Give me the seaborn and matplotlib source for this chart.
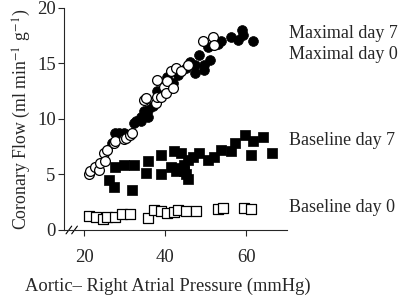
import pandas as pd
import seaborn as sns
import matplotlib
matplotlib.use("Agg")
import matplotlib.pyplot as plt

# Maximal flow, day 7 (filled circles)
max7_x = [26.9, 27.7, 28.5, 29.8, 32.2, 32.7, 33.9, 33.9, 34.7, 35.6, 35.6,
          37.0, 38.0, 40.5, 42.0, 43.0, 45.0, 46.0, 47.2, 47.2, 48.4, 49.6,
          49.6, 50.5, 50.9, 53.0, 53.8, 56.3, 57.9, 58.8, 59.2, 61.6]
max7_y = [7.8, 8.7, 8.7, 8.7, 9.6, 9.8, 9.8, 10.2, 10.7, 10.2, 10.8,
          11.2, 12.5, 13.8, 13.2, 14.0, 14.6, 15.1, 14.1, 14.9, 15.8, 14.4,
          14.9, 16.5, 15.3, 16.8, 17.0, 17.4, 17.1, 18.0, 17.6, 17.0]

# Maximal flow, day 0 (open circles)
max0_x = [21.1, 21.5, 22.7, 23.6, 24.0, 24.8, 25.2, 25.6, 27.3, 27.7, 29.8,
          30.2, 31.4, 31.8, 34.7, 35.2, 37.6, 38.0, 38.0, 38.9, 39.7, 40.1,
          40.5, 41.4, 41.8, 42.6, 43.9, 45.5, 49.2, 51.7, 52.1]
max0_y = [5.0, 5.3, 5.7, 5.4, 6.0, 6.9, 6.2, 7.2, 7.8, 8.0, 8.2,
          8.3, 8.6, 8.7, 11.7, 11.9, 11.4, 12.0, 13.5, 12.0, 12.9, 12.3,
          13.4, 14.3, 12.8, 14.6, 14.3, 14.9, 17.0, 17.4, 16.7]

# Baseline flow, day 7 (filled squares)
base7_x = [26.0, 27.3, 27.7, 29.8, 31.8, 32.2, 35.2, 35.6, 38.9, 38.9, 41.4,
           42.2, 42.6, 43.4, 43.9, 44.5, 44.7, 45.1, 45.5, 45.5, 46.8, 48.4,
           50.5, 52.1, 53.8, 56.3, 57.1, 59.6, 61.2, 61.7, 64.1, 66.2]
base7_y = [4.5, 3.9, 5.7, 5.9, 3.6, 5.9, 5.1, 6.2, 6.8, 5.0, 5.7,
           7.1, 5.3, 5.6, 6.9, 5.3, 5.9, 5.0, 6.3, 4.6, 6.6, 6.9,
           6.3, 6.6, 7.2, 7.1, 7.8, 8.6, 6.8, 8.0, 8.4, 6.9]

# Baseline flow, day 0 (open squares)
base0_x = [21.2, 23.0, 24.7, 25.7, 27.7, 29.4, 31.4, 35.7, 37.2, 38.9, 40.4,
           42.1, 43.1, 45.1, 47.6, 53.0, 54.2, 59.5, 61.2]
base0_y = [1.3, 1.2, 1.0, 1.2, 1.2, 1.4, 1.4, 1.1, 1.8, 1.7, 1.5,
           1.6, 1.8, 1.7, 1.7, 1.9, 2.0, 2.0, 1.9]

labels = ["Maximal day 7", "Maximal day 0", "Baseline day 7", "Baseline day 0"]
label_y = [17.7, 15.8, 8.1, 2.0]

sns.set_style("ticks")
plt.rcParams["font.family"] = ["Liberation Serif", "DejaVu Serif"]
plt.rcParams["mathtext.fontset"] = "stix"

fig = plt.figure(figsize=(4.0, 2.96), dpi=100)
ax = fig.add_axes([0.16, 0.223, 0.5575, 0.75])

ms = 50
sns.scatterplot(x=base0_x, y=base0_y, marker="s", s=ms, facecolor="white",
                edgecolor="black", linewidth=0.9, ax=ax)
sns.scatterplot(x=base7_x, y=base7_y, marker="s", s=ms, color="black",
                edgecolor="black", linewidth=0.5, ax=ax)
sns.scatterplot(x=max7_x, y=max7_y, marker="o", s=ms, color="black",
                edgecolor="black", linewidth=0.5, ax=ax)
sns.scatterplot(x=max0_x, y=max0_y, marker="o", s=ms, facecolor="white",
                edgecolor="black", linewidth=0.9, ax=ax)

ax.set_xlim(15, 70)
ax.set_ylim(0, 20)
ax.set_xticks([20, 40, 60])
ax.set_yticks([0, 5, 10, 15, 20])
ax.tick_params(labelsize=13.5, length=4, width=0.8, direction="out", pad=2)
ax.tick_params(axis="x", pad=10)
for s in ["left", "bottom"]:
    ax.spines[s].set_linewidth(0.8)
sns.despine(ax=ax)

ax.set_ylabel("Coronary Flow (ml min$^{-1}$ g$^{-1}$)", fontsize=12.8, labelpad=3)
ax.set_xlabel("")
fig.text(0.42, 0.018, "Aortic\u2013 Right Atrial Pressure (mmHg)", fontsize=13.3,
         ha="center", va="baseline")

# axis break marks
for dx in [16.2, 17.6]:
    ax.plot([dx - 0.7, dx + 0.7], [-0.35, 0.35], color="black", lw=0.8,
            clip_on=False)

for txt, yy in zip(labels, label_y):
    ax.text(70.4, yy, txt, fontsize=13, va="center", ha="left", clip_on=False)

fig.savefig("out.png", dpi=100)
